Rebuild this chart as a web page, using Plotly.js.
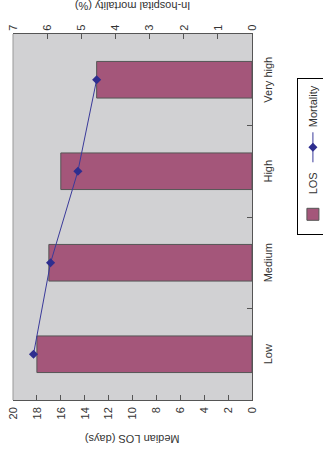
<!DOCTYPE html>
<html>
<head>
<meta charset="utf-8">
<script src="https://cdn.plot.ly/plotly-3.0.1.min.js"></script>
<style>
html, body { margin: 0; padding: 0; width: 323px; height: 463px; overflow: hidden; background: #fff; }
#wrap { position: absolute; left: 0; top: 0; width: 463px; height: 323px;
  transform-origin: 0 0; transform: translate(0px, 463px) rotate(-90deg); }
#chart { width: 463px; height: 323px; }
</style>
</head>
<body>
<div id="wrap"><div id="chart"></div></div>
<script>
const categories = ["Low", "Medium", "High", "Very high"];
const losValues = [18, 17, 16, 13];
const mortalityValues = [6.4, 5.9, 5.1, 4.55];
const losTicks = [0, 2, 4, 6, 8, 10, 12, 14, 16, 18, 20];
const mortalityTicks = [0, 1, 2, 3, 4, 5, 6, 7];

const FONT = "Liberation Sans, Arial, sans-serif";
const TXT = "#333";

const traces = [
  {
    type: "bar", name: "LOS", x: categories, y: losValues,
    marker: { color: "#a4567a", line: { color: "#555", width: 1 } },
    hoverinfo: "skip"
  },
  {
    type: "scatter", mode: "lines+markers", name: "Mortality",
    x: categories, y: mortalityValues, yaxis: "y2",
    line: { color: "#3a3a9a", width: 1 },
    marker: { symbol: "diamond", size: 7, color: "#2e2e8f" },
    hoverinfo: "skip"
  }
];

const layout = {
  width: 463, height: 323,
  margin: { l: 63, r: 34, t: 13, b: 71, autoexpand: false },
  paper_bgcolor: "#fff", plot_bgcolor: "#d1d1d3",
  font: { family: FONT, size: 11, color: TXT },
  bargap: 0.6,
  showlegend: true,
  legend: {
    orientation: "h", x: 0.45, xanchor: "left", y: -0.19, yanchor: "top",
    bordercolor: "#000", borderwidth: 1, bgcolor: "#fff",
    font: { family: FONT, size: 11, color: TXT }, itemwidth: 30,
    tracegroupgap: 0
  },
  xaxis: {
    type: "category", categoryarray: categories,
    ticks: "inside", ticklen: 5, tickcolor: "#555", tickson: "boundaries",
    showline: true, linecolor: "#555", linewidth: 1,
    showgrid: false, zeroline: false, ticklabelstandoff: 6,
    tickfont: { family: FONT, size: 11, color: TXT }
  },
  yaxis: {
    range: [0, 20], tickvals: losTicks,
    ticks: "inside", ticklen: 5, tickcolor: "#555",
    showline: true, linecolor: "#555", linewidth: 1,
    showgrid: false, zeroline: false, ticklabelstandoff: 4,
    tickfont: { family: FONT, size: 11, color: TXT }
  },
  yaxis2: {
    overlaying: "y", side: "right", range: [0, 7], tickvals: mortalityTicks,
    ticks: "inside", ticklen: 5, tickcolor: "#555",
    showline: true, linecolor: "#555", linewidth: 1,
    showgrid: false, zeroline: false, ticklabelstandoff: 0,
    tickfont: { family: FONT, size: 11, color: TXT }
  },
  shapes: [
    { type: "line", xref: "paper", yref: "paper", x0: 0, x1: 1, y0: 1, y1: 1,
      line: { color: "#999", width: 1 } }
  ],
  annotations: [
    { text: "Median LOS (days)", xref: "paper", yref: "paper", x: -0.109, y: 0.5,
      xanchor: "center", yanchor: "middle", textangle: -90, showarrow: false,
      font: { family: FONT, size: 11, color: TXT } },
    { text: "In-hospital mortality (%)", xref: "paper", yref: "paper", x: 1.076, y: 0.5,
      xanchor: "center", yanchor: "middle", textangle: -90, showarrow: false,
      font: { family: FONT, size: 11, color: TXT } }
  ]
};

Plotly.newPlot("chart", traces, layout, { displayModeBar: false, staticPlot: true });
</script>
</body>
</html>
